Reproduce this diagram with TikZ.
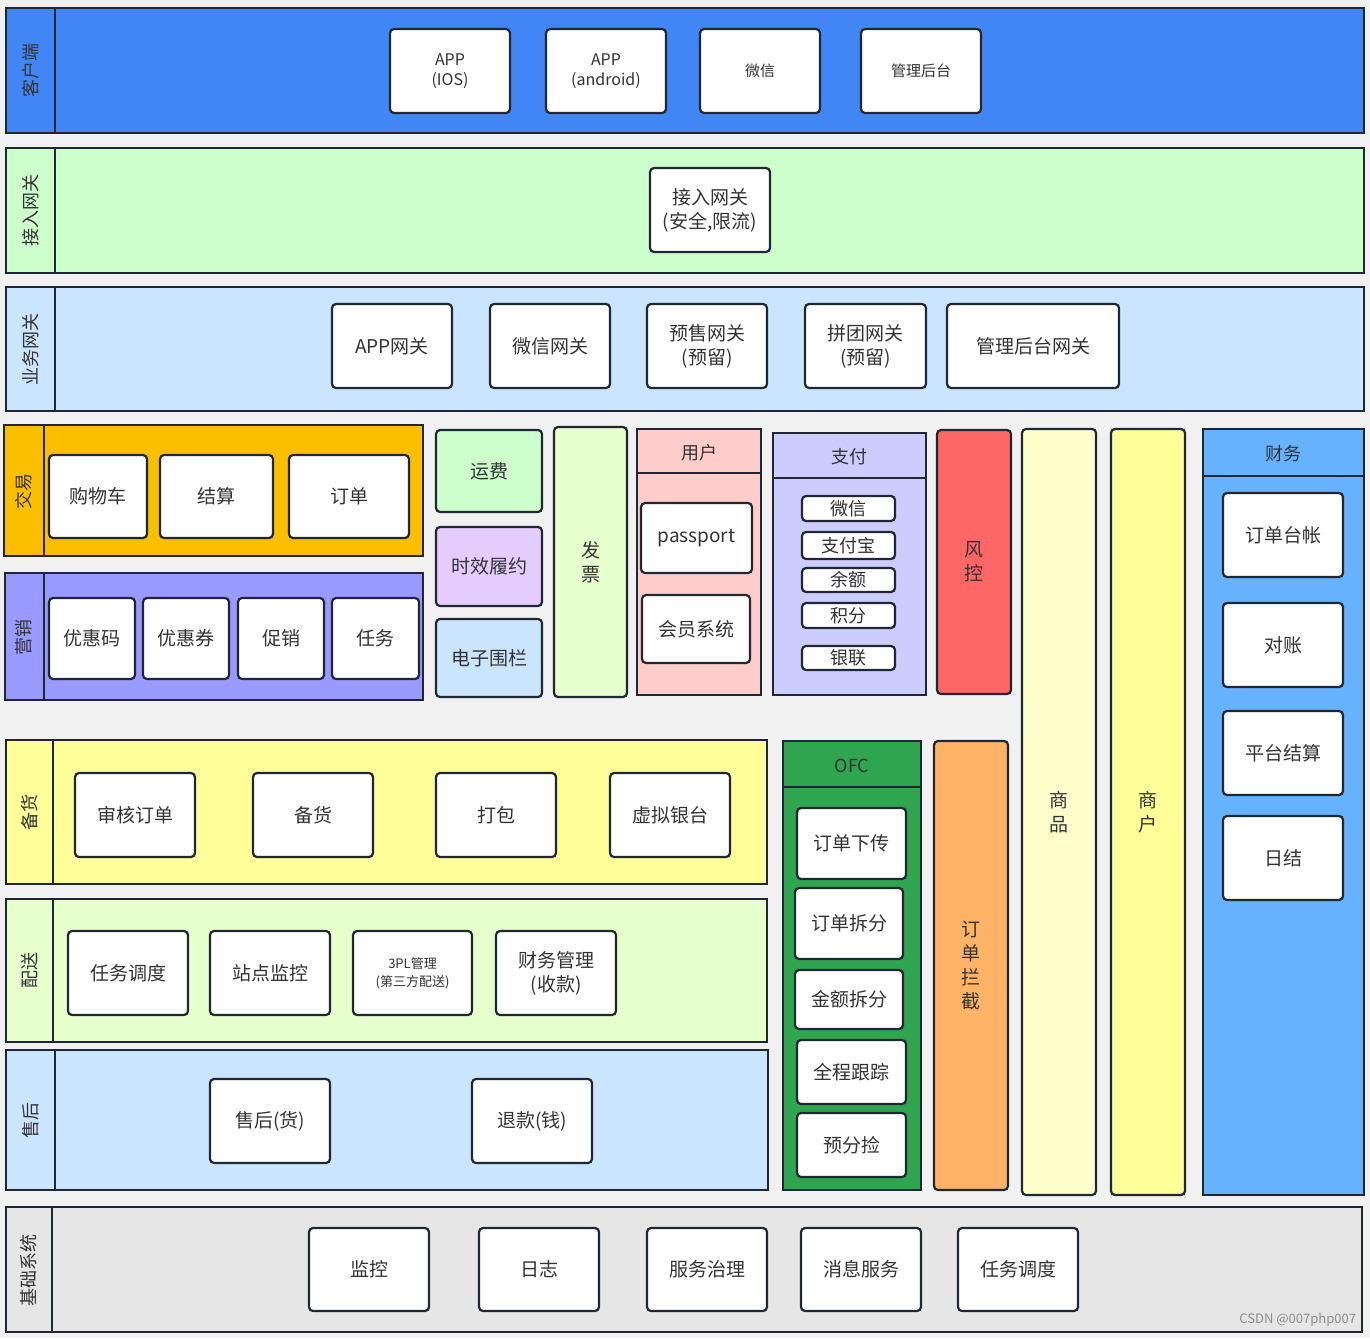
\documentclass[tikz,border=0pt]{standalone}
\usepackage{fontspec}
\setmainfont{Noto Sans CJK SC}
\definecolor{lc}{HTML}{1F2733}
\definecolor{tc}{HTML}{333333}
\definecolor{bgc}{HTML}{F1F1F1}
\definecolor{cBlue}{HTML}{4286F5}
\definecolor{cAcc}{HTML}{CCFFCC}
\definecolor{cBiz}{HTML}{CCE5FF}
\definecolor{cTrade}{HTML}{FBBF00}
\definecolor{cMkt}{HTML}{9999FF}
\definecolor{cTime}{HTML}{E5CCFF}
\definecolor{cDel}{HTML}{E6FFCC}
\definecolor{cUser}{HTML}{FFCCCC}
\definecolor{cPay}{HTML}{CCCCFF}
\definecolor{cRisk}{HTML}{FF6666}
\definecolor{cGoods}{HTML}{FFFFCC}
\definecolor{cMer}{HTML}{FFFF99}
\definecolor{cFin}{HTML}{66B2FF}
\definecolor{cOfc}{HTML}{30A550}
\definecolor{cInt}{HTML}{FFB366}
\definecolor{cBase}{HTML}{E6E6E6}
\newcommand{\bx}[7][wbox]{%
  \pgfmathsetmacro\bw{#5-#3}\pgfmathsetmacro\bh{#6-#4}%
  \node[#1,anchor=north west,minimum width=\bw pt,minimum height=\bh pt] (#2) at (#3,#4) {#7};}
\newcommand{\fs}[2]{\fontsize{#1}{#2}\selectfont}
\begin{document}
\begin{tikzpicture}[x=1pt,y=-1pt,
  every node/.style={inner sep=0pt,outer sep=0pt,text=tc,align=center},
  lane/.style={draw=lc,line width=2.4pt,rectangle},
  sq/.style={draw=lc,line width=2.2pt,rectangle},
  col/.style={draw=lc,line width=2.2pt,rectangle,rounded corners=4pt,font=\fs{19}{24}},
  wbox/.style={draw=lc,fill=white,line width=2.2pt,rectangle,rounded corners=4pt,font=\fs{19}{24}},
  sbox/.style={wbox,font=\fs{16}{20}},
  pbox/.style={wbox,font=\fs{18}{20}},
  lanelab/.style={rotate=90,font=\fs{18}{20}},
  divl/.style={draw=lc,line width=2.2pt},
  hdr/.style={font=\fs{18}{22}}]
\fill[bgc] (0,0) rectangle (1370,1338);
\useasboundingbox (0,0) rectangle (1370,1338);

% ---------------- horizontal lanes ----------------
\bx[lane,fill=cBlue]{cl}{6}{8}{1364}{133}{}
\draw[divl] ([xshift=49pt]cl.north west) -- ([xshift=49pt]cl.south west);
\node[lanelab] (cl-t) at (31,70) {客户端};
\bx[sbox]{ios}{390}{29}{510}{113}{APP\\(IOS)}
\bx[sbox]{andr}{546}{29}{666}{113}{APP\\(android)}
\bx[sbox,font=\fs{15}{18}]{wx}{700}{29}{820}{113}{微信}
\bx[sbox,font=\fs{15}{18}]{admin}{861}{29}{981}{113}{管理后台}

\bx[lane,fill=cAcc]{ag}{6}{148}{1364}{273}{}
\draw[divl] ([xshift=49pt]ag.north west) -- ([xshift=49pt]ag.south west);
\node[lanelab] (ag-t) at (31,210) {接入网关};
\bx[wbox]{agw}{650}{168}{770}{252}{接入网关\\(安全,限流)}

\bx[lane,fill=cBiz]{bg}{6}{287}{1364}{411}{}
\draw[divl] ([xshift=49pt]bg.north west) -- ([xshift=49pt]bg.south west);
\node[lanelab] (bg-t) at (31,349) {业务网关};
\bx[wbox]{appgw}{332}{304}{452}{388}{APP网关}
\bx[wbox]{wxgw}{490}{304}{610}{388}{微信网关}
\bx[wbox]{ysgw}{647}{304}{767}{388}{预售网关\\(预留)}
\bx[wbox]{ptgw}{805}{304}{926}{388}{拼团网关\\(预留)}
\bx[wbox]{adgw}{947}{304}{1119}{388}{管理后台网关}

% ---------------- trade / marketing ----------------
\bx[lane,fill=cTrade]{tr}{4}{425}{423}{556}{}
\draw[divl] ([xshift=40pt]tr.north west) -- ([xshift=40pt]tr.south west);
\node[lanelab] (tr-t) at (24,491) {交易};
\bx[wbox]{cart}{49}{455}{147}{538}{购物车}
\bx[wbox]{settle}{160}{455}{273}{538}{结算}
\bx[wbox]{order}{289}{455}{409}{538}{订单}

\bx[lane,fill=cMkt]{mk}{5}{573}{423}{700}{}
\draw[divl] ([xshift=39pt]mk.north west) -- ([xshift=39pt]mk.south west);
\node[lanelab] (mk-t) at (24,637) {营销};
\bx[wbox]{code}{49}{598}{135}{679}{优惠码}
\bx[wbox]{coupon}{143}{598}{229}{679}{优惠券}
\bx[wbox]{promo}{238}{598}{324}{679}{促销}
\bx[wbox]{task}{332}{598}{419}{679}{任务}

% ---------------- middle columns ----------------
\bx[col,fill=cAcc]{yf}{436}{430}{542}{512}{运费}
\bx[col,fill=cTime]{sx}{436}{527}{542}{606}{时效履约}
\bx[col,fill=cBiz]{dz}{436}{619}{542}{697}{电子围栏}
\bx[col,fill=cDel]{fp}{554}{427}{627}{697}{发\\票}

\bx[sq,fill=cUser]{yh}{637}{429}{761}{695}{}
\draw[divl] ([yshift=-44pt]yh.north west) -- ([yshift=-44pt]yh.north east);
\node[hdr] (yh-t) at (699,453) {用户};
\bx[wbox]{pass}{641}{503}{752}{573}{passport}
\bx[wbox]{vip}{642}{595}{750}{663}{会员系统}

\bx[sq,fill=cPay]{zf}{773}{433}{926}{695}{}
\draw[divl] ([yshift=-45pt]zf.north west) -- ([yshift=-45pt]zf.north east);
\node[hdr] (zf-t) at (849,457) {支付};
\bx[pbox]{pwx}{802}{496}{895}{521}{微信}
\bx[pbox]{pali}{802}{532}{895}{559}{支付宝}
\bx[pbox]{pbal}{802}{568}{895}{592}{余额}
\bx[pbox]{ppt}{802}{603}{895}{628}{积分}
\bx[pbox]{pun}{802}{646}{895}{670}{银联}

\bx[col,fill=cRisk]{fk}{937}{430}{1011}{694}{风\\控}
\bx[col,fill=cGoods]{sp}{1022}{429}{1096}{1195}{商\\品}
\bx[col,fill=cMer]{sh}{1111}{429}{1185}{1195}{商\\户}

\bx[sq,fill=cFin]{cw}{1203}{429}{1364}{1195}{}
\draw[divl] ([yshift=-47pt]cw.north west) -- ([yshift=-47pt]cw.north east);
\node[hdr] (cw-t) at (1283,454) {财务};
\bx[wbox]{tz}{1223}{493}{1343}{577}{订单台帐}
\bx[wbox]{dzh}{1223}{603}{1343}{687}{对账}
\bx[wbox]{ptjs}{1223}{711}{1343}{795}{平台结算}
\bx[wbox]{rj}{1223}{816}{1343}{900}{日结}

% ---------------- lower lanes ----------------
\bx[lane,fill=cMer]{st}{6}{740}{767}{884}{}
\draw[divl] ([xshift=47pt]st.north west) -- ([xshift=47pt]st.south west);
\node[lanelab] (st-t) at (30,812) {备货};
\bx[wbox]{audit}{75}{773}{195}{857}{审核订单}
\bx[wbox]{prep}{253}{773}{373}{857}{备货}
\bx[wbox]{pack}{436}{773}{556}{857}{打包}
\bx[wbox]{vcash}{610}{773}{730}{857}{虚拟银台}

\bx[lane,fill=cDel]{dl}{6}{899}{767}{1042}{}
\draw[divl] ([xshift=47pt]dl.north west) -- ([xshift=47pt]dl.south west);
\node[lanelab] (dl-t) at (30,970) {配送};
\bx[wbox]{sched}{68}{931}{188}{1015}{任务调度}
\bx[wbox]{site}{210}{931}{330}{1015}{站点监控}
\bx[wbox,font=\fs{13}{18}]{tpl}{353}{931}{472}{1015}{3PL管理\\(第三方配送)}
\bx[wbox]{fin}{496}{931}{616}{1015}{财务管理\\(收款)}

\bx[lane,fill=cBiz]{af}{6}{1050}{768}{1190}{}
\draw[divl] ([xshift=49pt]af.north west) -- ([xshift=49pt]af.south west);
\node[lanelab] (af-t) at (31,1120) {售后};
\bx[wbox]{goods}{210}{1079}{330}{1163}{售后(货)}
\bx[wbox]{refund}{472}{1079}{592}{1163}{退款(钱)}

% ---------------- OFC / intercept ----------------
\bx[sq,fill=cOfc]{ofc}{783}{741}{921}{1190}{}
\draw[divl] ([yshift=-46pt]ofc.north west) -- ([yshift=-46pt]ofc.north east);
\node[hdr] (ofc-t) at (852,766) {OFC};
\bx[wbox]{o1}{797}{808}{906}{879}{订单下传}
\bx[wbox]{o2}{795}{888}{903}{959}{订单拆分}
\bx[wbox]{o3}{795}{970}{903}{1029}{金额拆分}
\bx[wbox]{o4}{797}{1040}{906}{1104}{全程跟踪}
\bx[wbox]{o5}{797}{1113}{906}{1177}{预分捡}

\bx[col,fill=cInt]{lj}{934}{741}{1008}{1190}{订\\单\\拦\\截}

% ---------------- base ----------------
\bx[lane,fill=cBase]{bs}{6}{1207}{1362}{1332}{}
\draw[divl] ([xshift=46pt]bs.north west) -- ([xshift=46pt]bs.south west);
\node[lanelab] (bs-t) at (29,1270) {基础系统};
\bx[wbox]{mon}{309}{1228}{429}{1311}{监控}
\bx[wbox]{log}{479}{1228}{599}{1311}{日志}
\bx[wbox]{gov}{647}{1228}{767}{1311}{服务治理}
\bx[wbox]{msg}{801}{1228}{921}{1311}{消息服务}
\bx[wbox]{job}{958}{1228}{1078}{1311}{任务调度}

\node[anchor=east,text=black!45,font=\fs{13}{15}] (wm) at (1356,1320) {CSDN @007php007};
\end{tikzpicture}
\end{document}
